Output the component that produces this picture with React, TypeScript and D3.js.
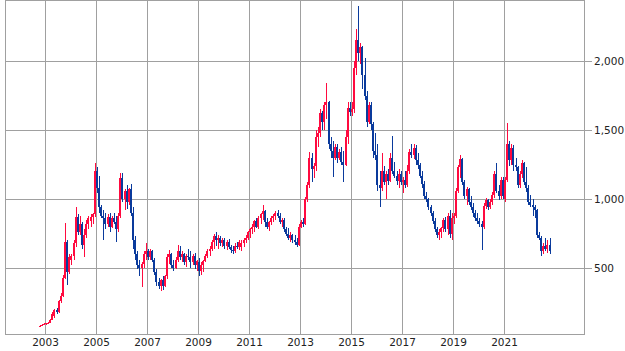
import React from "react";
import * as d3 from "d3";

// monthly candles [open, high, low, close]; 2002 starts in October
const y2002 = [[75, 90, 70, 82], [82, 95, 78, 88], [88, 98, 84, 92]];
const y2003 = [
  [92, 105, 88, 100], [100, 110, 95, 105], [105, 130, 100, 125], [125, 180, 120, 170],
  [150, 200, 140, 195], [195, 210, 170, 180], [180, 270, 175, 260], [260, 320, 250, 300],
  [300, 450, 290, 430], [430, 826, 420, 690], [690, 700, 380, 470], [470, 600, 460, 580],
];
const y2004 = [
  [560, 600, 520, 590], [590, 700, 560, 680], [680, 942, 650, 870], [870, 890, 740, 760],
  [760, 880, 740, 820], [820, 830, 640, 670], [670, 780, 580, 740], [740, 850, 720, 820],
  [820, 880, 780, 860], [840, 890, 800, 870], [870, 900, 820, 890], [890, 1260, 870, 1200],
];
const y2005 = [
  [1200, 1230, 1040, 1080], [1080, 1170, 900, 940], [940, 960, 860, 880], [880, 920, 700, 860],
  [860, 900, 780, 820], [820, 890, 800, 870], [870, 900, 760, 800], [800, 880, 790, 860],
  [860, 900, 820, 830], [830, 880, 690, 780], [780, 900, 760, 880], [880, 1190, 860, 1150],
];
const y2006 = [
  [1150, 1190, 980, 1000], [1000, 1070, 920, 1060], [1060, 1100, 930, 980], [980, 1080, 960, 1070],
  [1070, 1110, 880, 900], [900, 940, 640, 700], [700, 730, 560, 600], [600, 620, 490, 520],
  [520, 560, 440, 500], [500, 540, 360, 530], [530, 620, 500, 600], [600, 680, 560, 620],
];
const y2007 = [
  [620, 640, 560, 580], [580, 640, 560, 620], [620, 630, 540, 560], [560, 570, 450, 470],
  [470, 490, 370, 400], [400, 430, 350, 370], [370, 420, 330, 410], [410, 440, 340, 370],
  [370, 450, 360, 440], [440, 600, 420, 580], [580, 630, 530, 600], [600, 610, 500, 520],
];
const y2008 = [
  [520, 560, 480, 500], [500, 580, 490, 560], [560, 667, 540, 620], [620, 660, 560, 580],
  [580, 620, 540, 600], [600, 610, 520, 540], [540, 600, 510, 590], [590, 640, 560, 580],
  [580, 620, 500, 540], [540, 600, 520, 590], [590, 610, 490, 520], [520, 560, 480, 550],
];
const y2009 = [
  [540, 570, 440, 480], [480, 540, 450, 520], [520, 560, 470, 550], [550, 600, 540, 590],
  [590, 640, 570, 620], [620, 660, 590, 640], [640, 700, 620, 690], [690, 750, 640, 730],
  [730, 760, 660, 700], [700, 740, 640, 720], [720, 730, 660, 680], [680, 720, 650, 700],
];
const y2010 = [
  [700, 720, 640, 660], [660, 700, 630, 690], [690, 710, 640, 650], [650, 670, 610, 630],
  [630, 660, 600, 620], [620, 680, 610, 660], [660, 690, 640, 650], [650, 700, 630, 690],
  [650, 700, 620, 680], [680, 720, 650, 700], [700, 740, 680, 720], [720, 770, 700, 760],
];
const y2011 = [
  [760, 790, 720, 780], [780, 820, 750, 800], [800, 850, 760, 840], [840, 860, 790, 800],
  [800, 880, 780, 860], [860, 900, 820, 890], [890, 956, 850, 910], [910, 920, 800, 830],
  [830, 860, 780, 800], [800, 840, 770, 830], [830, 880, 810, 860], [860, 890, 830, 880],
];
const y2012 = [
  [880, 910, 850, 900], [900, 920, 860, 880], [880, 900, 820, 830], [830, 860, 800, 850],
  [850, 860, 760, 780], [780, 800, 730, 750], [750, 790, 700, 720], [720, 760, 690, 740],
  [740, 750, 680, 700], [700, 740, 670, 690], [690, 720, 650, 670], [670, 820, 660, 800],
];
const y2013 = [
  [800, 850, 790, 830], [830, 860, 800, 820], [820, 1015, 810, 1000], [1000, 1120, 980, 1100],
  [1100, 1340, 1080, 1300], [1300, 1330, 1120, 1220], [1220, 1260, 1150, 1240], [1240, 1500, 1200, 1450],
  [1450, 1520, 1380, 1480], [1480, 1650, 1450, 1620], [1620, 1640, 1500, 1560], [1560, 1700, 1500, 1680],
];
const y2014 = [
  [1680, 1840, 1580, 1700], [1700, 1710, 1360, 1400], [1400, 1450, 1300, 1350], [1350, 1420, 1160, 1300],
  [1300, 1400, 1280, 1380], [1380, 1400, 1260, 1300], [1300, 1360, 1280, 1340], [1340, 1380, 1250, 1270],
  [1270, 1350, 1120, 1250], [1250, 1500, 1240, 1450], [1450, 1700, 1400, 1660], [1660, 1700, 1600, 1630],
];
const y2015 = [
  [1630, 1700, 1600, 1650], [1650, 2000, 1620, 1950], [1950, 2230, 1900, 2150], [2150, 2400, 2000, 2060],
  [2060, 2130, 1980, 2100], [2100, 2110, 1800, 1900], [1900, 2020, 1720, 1750], [1750, 1780, 1520, 1560],
  [1560, 1700, 1540, 1680], [1680, 1700, 1500, 1540], [1540, 1560, 1300, 1350], [1350, 1480, 1280, 1320],
];
const y2016 = [
  [1320, 1400, 1060, 1100], [1100, 1200, 940, 1080], [1080, 1330, 1060, 1200], [1200, 1240, 1100, 1120],
  [1120, 1200, 1000, 1180], [1180, 1220, 1100, 1130], [1130, 1330, 1120, 1300], [1300, 1460, 1180, 1200],
  [1200, 1270, 1150, 1170], [1170, 1200, 1100, 1130], [1130, 1220, 1080, 1180], [1180, 1200, 1100, 1120],
];
const y2017 = [
  [1120, 1160, 1040, 1140], [1140, 1200, 1080, 1100], [1100, 1250, 1090, 1200], [1200, 1360, 1180, 1340],
  [1340, 1400, 1300, 1320], [1320, 1400, 1290, 1370], [1370, 1390, 1250, 1280], [1280, 1330, 1220, 1250],
  [1250, 1260, 1150, 1170], [1170, 1200, 1080, 1110], [1110, 1130, 1000, 1020], [1020, 1050, 980, 1000],
];
const y2018 = [
  [1000, 1010, 920, 940], [940, 960, 880, 900], [900, 910, 820, 840], [840, 860, 760, 780],
  [780, 800, 720, 740], [740, 780, 700, 760], [760, 800, 720, 790], [790, 860, 760, 850],
  [850, 870, 760, 780], [780, 900, 740, 880], [880, 920, 720, 750], [750, 900, 700, 860],
];
const y2019 = [
  [860, 900, 820, 880], [880, 1080, 860, 1060], [1060, 1250, 1040, 1230], [1230, 1320, 1150, 1290],
  [1290, 1300, 1100, 1120], [1120, 1140, 1000, 1020], [1020, 1090, 960, 1070], [1070, 1080, 960, 980],
  [980, 1020, 920, 940], [940, 970, 870, 900], [900, 920, 840, 860], [860, 900, 820, 840],
];
const y2020 = [
  [840, 860, 800, 820], [820, 840, 630, 800], [800, 970, 780, 950], [950, 1010, 930, 990],
  [990, 1000, 920, 940], [940, 1000, 930, 980], [980, 1050, 960, 1030], [1030, 1200, 1010, 1180],
  [1180, 1260, 1040, 1060], [1060, 1100, 990, 1020], [1020, 1160, 1000, 1140], [1140, 1160, 1000, 1020],
];
const y2021 = [
  [1000, 1160, 980, 1140], [1140, 1550, 1120, 1400], [1400, 1420, 1240, 1280], [1280, 1400, 1250, 1370],
  [1370, 1390, 1200, 1250], [1250, 1300, 1200, 1230], [1230, 1240, 1080, 1100], [1100, 1200, 1080, 1180],
  [1180, 1280, 1150, 1260], [1260, 1270, 1100, 1120], [1120, 1230, 1050, 1080], [1080, 1100, 960, 980],
];
const y2022 = [
  [980, 1030, 940, 960], [960, 1000, 880, 940], [940, 960, 860, 920], [920, 930, 720, 740],
  [740, 760, 700, 720], [720, 730, 590, 620], [620, 680, 600, 660], [660, 720, 620, 640],
  [640, 700, 610, 670], [670, 720, 600, 620],
];

const years = [
  [2002, y2002], [2003, y2003], [2004, y2004], [2005, y2005], [2006, y2006], [2007, y2007],
  [2008, y2008], [2009, y2009], [2010, y2010], [2011, y2011], [2012, y2012], [2013, y2013],
  [2014, y2014], [2015, y2015], [2016, y2016], [2017, y2017], [2018, y2018], [2019, y2019],
  [2020, y2020], [2021, y2021], [2022, y2022],
] as [number, number[][]][];

const xTickYears = [2003, 2005, 2007, 2009, 2011, 2013, 2015, 2017, 2019, 2021];
const yTicks = [500, 1000, 1500, 2000];

const UP = "#ff0a3f";
const DOWN = "#0a3a9c";
const GRID = "#a0a0a0";

export default function App() {
  const W = 625, H = 351;
  const plot = { left: 5, right: 584, top: 0, bottom: 334 };

  const x = d3.scaleUtc()
    .domain([new Date(Date.UTC(2003, 0, 1)), new Date(Date.UTC(2021, 0, 1))])
    .range([45, 504]);
  const y = d3.scaleLinear().domain([500, 2000]).range([268, 61]);
  const fmt = d3.format(",");

  const candles = years.flatMap(([yr, rows]) =>
    rows.map((r, i) => ({
      date: new Date(Date.UTC(yr, (yr === 2002 ? 9 : 0) + i, 15)),
      o: r[0], h: r[1], l: r[2], c: r[3],
    }))
  );

  return (
    <div style={{ position: "absolute", left: 0, top: 0 }}>
      <svg width={W} height={H} style={{ display: "block", fontFamily: "'DejaVu Sans', Verdana, sans-serif" }}>
        <defs>
          <clipPath id="plotClip">
            <rect x={plot.left} y={plot.top} width={plot.right - plot.left} height={plot.bottom - plot.top} />
          </clipPath>
        </defs>
        <rect x={0} y={0} width={W} height={H} fill="#fff" />

        {/* grid */}
        {xTickYears.map((yr) => {
          const px = Math.round(x(new Date(Date.UTC(yr, 0, 1)))) + 0.5;
          return (
            <g key={"x" + yr}>
              <line x1={px} x2={px} y1={plot.top} y2={plot.bottom} stroke={GRID} />
              <text x={px} y={346} textAnchor="middle" fontSize={10.5} fill="#222">{yr}</text>
            </g>
          );
        })}
        {yTicks.map((v) => {
          const py = Math.round(y(v)) + 0.5;
          return (
            <g key={"y" + v}>
              <line x1={plot.left} x2={plot.right + 8} y1={py} y2={py} stroke={GRID} />
              <text x={594} y={py} dy="0.35em" fontSize={10.5} fill="#222">{fmt(v)}</text>
            </g>
          );
        })}
        <rect x={plot.left + 0.5} y={plot.top + 0.5} width={plot.right - plot.left} height={plot.bottom - plot.top}
          fill="none" stroke={GRID} />

        {/* candles */}
        <g clipPath="url(#plotClip)" shapeRendering="crispEdges">
          {candles.map((d, i) => {
            const cx = Math.round(x(d.date));
            const up = d.c >= d.o;
            const col = up ? UP : DOWN;
            const top = y(Math.max(d.o, d.c));
            const bot = y(Math.min(d.o, d.c));
            return (
              <g key={i} fill={col}>
                <rect x={cx} y={y(d.h)} width={1} height={Math.max(1, y(d.l) - y(d.h))} />
                <rect x={cx - 1} y={top} width={2} height={Math.max(1, bot - top)} />
              </g>
            );
          })}
        </g>
      </svg>
    </div>
  );
}
